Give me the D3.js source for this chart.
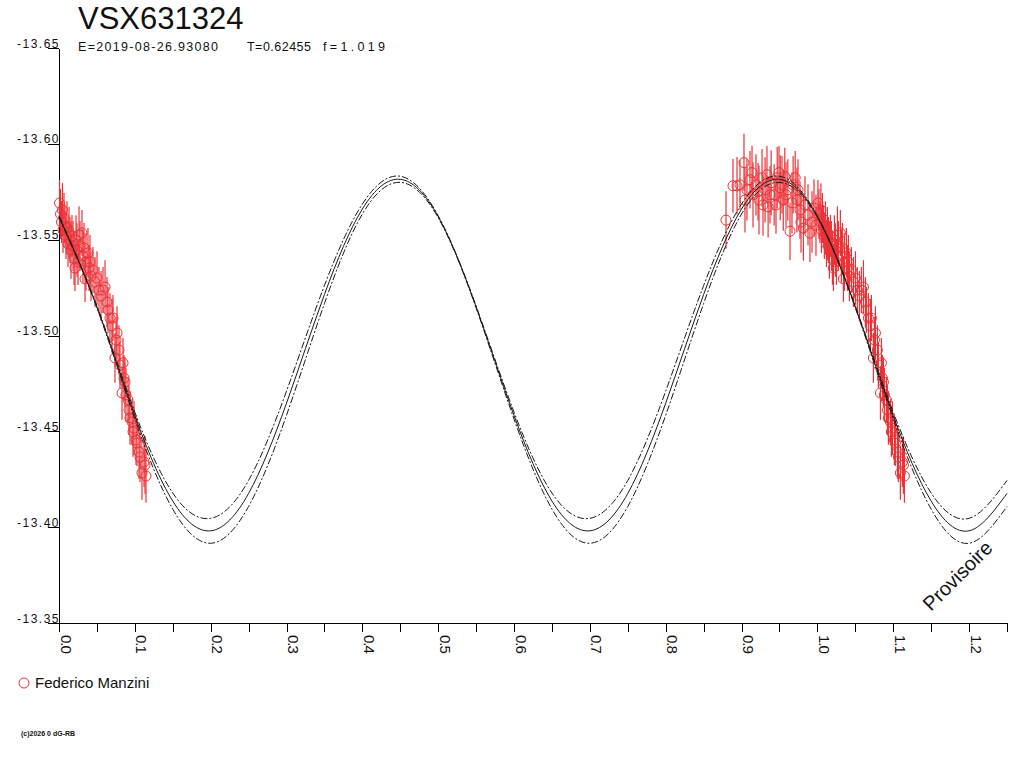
<!DOCTYPE html>
<html lang="fr">
<head>
<meta charset="utf-8">
<title>VSX631324</title>
<script src="https://d3js.org/d3.v7.min.js"></script>
<style>
body { margin: 0; background: #fff; }
svg { font-family: "Liberation Sans", Arial, sans-serif; }
.axis path, .axis line { stroke: #000; shape-rendering: crispEdges; }
</style>
</head>
<body>
<script>

// phase grid of the fitted curve
var fitPhase = [0.00, 0.05, 0.10, 0.15, 0.20, 0.25, 0.30, 0.35, 0.40, 0.45,
                0.50, 0.55, 0.60, 0.65, 0.70, 0.75, 0.80, 0.85, 0.90, 0.95,
                1.00, 1.05, 1.10, 1.15, 1.20, 1.25];
var fitMid   = [-13.5620, -13.5149, -13.4582, -13.4136, -13.3981, -13.4176, -13.4647, -13.5214, -13.5660, -13.5815,
                -13.5620, -13.5149, -13.4582, -13.4136, -13.3981, -13.4176, -13.4647, -13.5214, -13.5660, -13.5815,
                -13.5620, -13.5149, -13.4582, -13.4136, -13.3981, -13.4176];
var fitUpper = [-13.5625, -13.5154, -13.4600, -13.4178, -13.4046, -13.4244, -13.4710, -13.5261, -13.5686, -13.5831,
                -13.5625, -13.5154, -13.4600, -13.4178, -13.4046, -13.4244, -13.4710, -13.5261, -13.5686, -13.5831,
                -13.5625, -13.5154, -13.4600, -13.4178, -13.4046, -13.4244];
var fitLower = [-13.5615, -13.5144, -13.4564, -13.4094, -13.3916, -13.4108, -13.4584, -13.5167, -13.5634, -13.5799,
                -13.5615, -13.5144, -13.4564, -13.4094, -13.3916, -13.4108, -13.4584, -13.5167, -13.5634, -13.5799,
                -13.5615, -13.5144, -13.4564, -13.4094, -13.3916, -13.4108];

// observations (Federico Manzini): phase, magnitude, error
var obsPhase = [0.0007, 0.0020, 0.0033, 0.0046, 0.0053, 0.0066, 0.0079, 0.0092, 0.0105, 0.0119,
                0.0132, 0.0145, 0.0158, 0.0171, 0.0185, 0.0198, 0.0211, 0.0224, 0.0237, 0.0251,
                0.0264, 0.0277, 0.0303, 0.0316, 0.0330, 0.0343, 0.0356, 0.0382, 0.0396, 0.0409,
                0.0422, 0.0448, 0.0475, 0.0501, 0.0527, 0.0554, 0.0580, 0.0607, 0.0633, 0.0646,
                0.0672, 0.0699, 0.0712, 0.0738, 0.0752, 0.0765, 0.0791, 0.0804, 0.0831, 0.0844,
                0.0857, 0.0870, 0.0883, 0.0910, 0.0923, 0.0936, 0.0963, 0.0976, 0.0989, 0.1015,
                0.1028, 0.1055, 0.1068, 0.1094, 0.1121, 0.1134, 0.1147,
                0.8795, 0.8887, 0.8940, 0.8979, 0.9032, 0.9045, 0.9071, 0.9111, 0.9138, 0.9151,
                0.9190, 0.9217, 0.9230, 0.9270, 0.9283, 0.9310, 0.9335, 0.9350, 0.9375, 0.9390,
                0.9430, 0.9454, 0.9470, 0.9494, 0.9510, 0.9533, 0.9550, 0.9570, 0.9586, 0.9610,
                0.9639, 0.9665, 0.9680, 0.9707, 0.9730, 0.9744, 0.9770, 0.9784, 0.9815, 0.9836,
                0.9876, 0.9902, 0.9929, 0.9955, 0.9981];
var obsMag = [-13.5691, -13.5634, -13.5592, -13.5655, -13.5550, -13.5613, -13.5571, -13.5519, -13.5561, -13.5477,
              -13.5540, -13.5498, -13.5446, -13.5519, -13.5467, -13.5404, -13.5352, -13.5498, -13.5446, -13.5384,
              -13.5524, -13.5467, -13.5535, -13.5415, -13.5457, -13.5295, -13.5384, -13.5431, -13.5352, -13.5384,
              -13.5310, -13.5342, -13.5279, -13.5300, -13.5237, -13.5206, -13.5237, -13.5253, -13.5175, -13.5133,
              -13.5091, -13.5050, -13.5091, -13.4883, -13.4977, -13.5013, -13.4924, -13.4846, -13.4700, -13.4857,
              -13.4778, -13.4757, -13.4690, -13.4664, -13.4611, -13.4570, -13.4549, -13.4497, -13.4517, -13.4455,
              -13.4439, -13.4392, -13.4366, -13.4283, -13.4340, -13.4324, -13.4267,
              -13.5602, -13.5781, -13.5781, -13.5786, -13.5902, -13.5707, -13.5760, -13.5813, -13.5850, -13.5734,
              -13.5786, -13.5750, -13.5707, -13.5823, -13.5681, -13.5760, -13.5839, -13.5671, -13.5734, -13.5797,
              -13.5734, -13.5681, -13.5823, -13.5850, -13.5771, -13.5786, -13.5707, -13.5829, -13.5734, -13.5760,
              -13.5544, -13.5692, -13.5786, -13.5823, -13.5707, -13.5760, -13.5655, -13.5592, -13.5560, -13.5681,
              -13.5629, -13.5534, -13.5592, -13.5665, -13.5576];
var obsErr = [0.012, 0.013, 0.011, 0.014, 0.012, 0.013, 0.011, 0.012, 0.014, 0.012,
              0.013, 0.012, 0.015, 0.011, 0.013, 0.014, 0.012, 0.013, 0.014, 0.012,
              0.015, 0.013, 0.012, 0.014, 0.013, 0.012, 0.015, 0.013, 0.012, 0.014,
              0.013, 0.012, 0.013, 0.014, 0.012, 0.013, 0.012, 0.014, 0.013, 0.012,
              0.013, 0.014, 0.012, 0.013, 0.012, 0.014, 0.013, 0.012, 0.014, 0.013,
              0.012, 0.013, 0.014, 0.012, 0.013, 0.014, 0.012, 0.013, 0.014, 0.013,
              0.012, 0.014, 0.013, 0.014, 0.013, 0.015, 0.014,
              0.015, 0.014, 0.015, 0.013, 0.015, 0.017, 0.016, 0.015, 0.014, 0.017,
              0.016, 0.015, 0.018, 0.015, 0.016, 0.017, 0.015, 0.016, 0.015, 0.017,
              0.016, 0.015, 0.016, 0.014, 0.017, 0.015, 0.016, 0.015, 0.017, 0.016,
              0.015, 0.016, 0.015, 0.014, 0.017, 0.016, 0.015, 0.016, 0.017, 0.015,
              0.016, 0.015, 0.016, 0.015, 0.016];

var xTicks = [0.00, 0.05, 0.10, 0.15, 0.20, 0.25, 0.30, 0.35, 0.40, 0.45, 0.50, 0.55, 0.60,
              0.65, 0.70, 0.75, 0.80, 0.85, 0.90, 0.95, 1.00, 1.05, 1.10, 1.15, 1.20, 1.25];
var xLabels = [0.0, 0.1, 0.2, 0.3, 0.4, 0.5, 0.6, 0.7, 0.8, 0.9, 1.0, 1.1, 1.2];
var yTicks = [-13.65, -13.60, -13.55, -13.50, -13.45, -13.40, -13.35];

var w = 1024, h = 768;
var red = "#ec3237";

var svg = d3.select("body").append("svg")
    .attr("width", w)
    .attr("height", h);

var x = d3.scaleLinear().domain([0, 1.25]).range([59, 1007]);
var y = d3.scaleLinear().domain([-13.65, -13.35]).range([48, 623]);

// title + ephemeris
svg.append("text")
   .attr("x", 78).attr("y", 29)
   .attr("font-size", 31)
   .attr("fill", "#111")
   .text("VSX631324");

// text, x, width
var sub = [["E=2019-08-26.93080", 78, 140], ["T=0.62455", 247, 64], ["f=1.019", 323, 62]];
svg.selectAll(".sub")
   .data(sub)
   .enter()
   .append("text")
   .attr("class", "sub")
   .attr("x", function(d){ return d[1]; })
   .attr("y", 51)
   .attr("font-size", 12.5)
   .attr("textLength", function(d){ return d[2]; })
   .attr("lengthAdjust", "spacing")
   .attr("fill", "#111")
   .text(function(d){ return d[0]; });

// axes
var xAxis = svg.append("g")
   .attr("class", "axis")
   .attr("transform", "translate(0,623)")
   .call(d3.axisBottom(x)
       .tickValues(xTicks)
       .tickSize(9)
       .tickSizeOuter(0)
       .tickFormat(function(d){
           var isLab = xLabels.some(function(l){ return Math.abs(l - d) < 1e-6; });
           return isLab ? d.toFixed(1) : "";
       }));
xAxis.attr("font-family", null).attr("font-size", null);
xAxis.selectAll("text")
   .attr("x", 0).attr("y", 0).attr("dy", null)
   .attr("text-anchor", "start")
   .attr("transform", "translate(1,12) rotate(90)")
   .attr("font-size", 15)
   .attr("letter-spacing", "-1px")
   .attr("fill", "#111");

var yAxis = svg.append("g")
   .attr("class", "axis")
   .attr("transform", "translate(59,0)")
   .call(d3.axisLeft(y)
       .tickValues(yTicks)
       .tickSize(11)
       .tickSizeOuter(0)
       .tickFormat(function(d){ return d.toFixed(2); }));
yAxis.attr("font-family", null).attr("font-size", null);
yAxis.selectAll("text")
   .attr("x", 1).attr("dy", -1)
   .attr("text-anchor", "end")
   .attr("font-size", 12)
   .attr("letter-spacing", "1.5px")
   .attr("fill", "#111");

// observations, drawn at phase and phase+1 when inside the window
var pts = [];
for (var i = 0; i < obsPhase.length; i++) {
    [obsPhase[i], obsPhase[i] + 1].forEach(function(p){
        if (p >= 0 && p <= 1.25) pts.push({p: p, m: obsMag[i], e: obsErr[i]});
    });
}

var obs = svg.append("g");
obs.selectAll("line")
   .data(pts)
   .enter()
   .append("line")
   .attr("x1", function(d){ return x(d.p); })
   .attr("x2", function(d){ return x(d.p); })
   .attr("y1", function(d){ return y(d.m - d.e); })
   .attr("y2", function(d){ return y(d.m + d.e); })
   .attr("stroke", red)
   .attr("stroke-width", 1.2);
obs.selectAll("circle")
   .data(pts)
   .enter()
   .append("circle")
   .attr("cx", function(d){ return x(d.p); })
   .attr("cy", function(d){ return y(d.m); })
   .attr("r", 5)
   .attr("fill", "none")
   .attr("stroke", red)
   .attr("stroke-width", 1);

// fitted curve and its envelope
var line = d3.line()
   .x(function(d){ return x(d[0]); })
   .y(function(d){ return y(d[1]); })
   .curve(d3.curveNatural);

var fits = [
    {v: fitUpper, dash: "7,2,2,2"},
    {v: fitMid,   dash: null},
    {v: fitLower, dash: "7,2,2,2"}
];
svg.selectAll(".fit")
   .data(fits)
   .enter()
   .append("path")
   .attr("class", "fit")
   .attr("d", function(f){ return line(d3.zip(fitPhase, f.v)); })
   .attr("fill", "none")
   .attr("stroke", "#1a1a1a")
   .attr("stroke-width", 1)
   .attr("stroke-dasharray", function(f){ return f.dash; });

// watermark
svg.append("text")
   .attr("transform", "translate(931,612) rotate(-45)")
   .attr("font-size", 20)
   .attr("fill", "#111")
   .text("Provisoire");

// legend
svg.append("circle")
   .attr("cx", 24).attr("cy", 683).attr("r", 5)
   .attr("fill", "none").attr("stroke", red);
svg.append("text")
   .attr("x", 35).attr("y", 688)
   .attr("font-size", 15)
   .attr("fill", "#111")
   .text("Federico Manzini");

svg.append("text")
   .attr("x", 21).attr("y", 736)
   .attr("font-size", 7)
   .attr("font-weight", "bold")
   .attr("fill", "#111")
   .text("(c)2026 0 dG-RB");

</script>
</body>
</html>
